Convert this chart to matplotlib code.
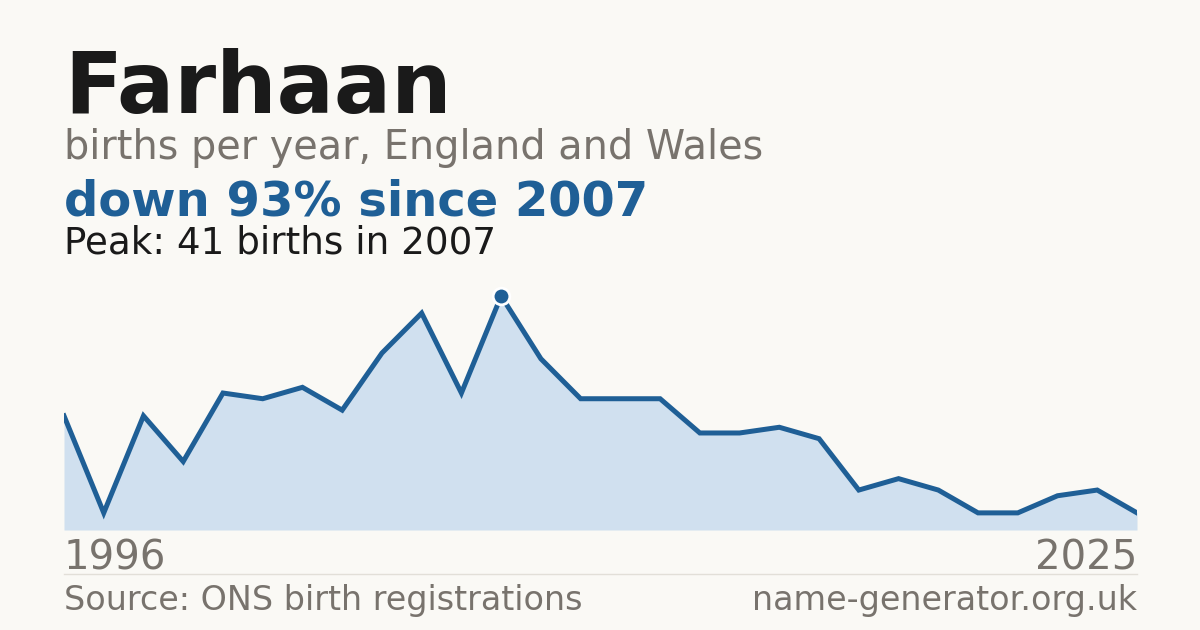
import matplotlib.pyplot as plt

plt.rcParams["font.family"] = ["DejaVu Sans"]

# births per year for Farhaan
years = list(range(1996, 2024))
births = [20, 3, 20, 12, 24, 23, 25, 21, 31, 38, 24, 41, 30, 23,
          23, 23, 17, 17, 18, 16, 7, 9, 7, 3, 3, 6, 7, 3]
axis_labels = ["1996", "2025"]
peak_year = 2007

BG = "#faf9f5"
BLUE = "#1f5f96"
FILL = "#d0e0ef"
GREY = "#78736d"
DARK = "#1a1a1a"

fig = plt.figure(figsize=(12, 6.3), dpi=100, facecolor=BG)

ax = fig.add_axes([64 / 1200, 100 / 630, 1073 / 1200, 250 / 630])
ax.set_facecolor(BG)
ax.fill_between(years, births, 0, color=FILL, lw=0)
ax.plot(years, births, color=BLUE, lw=3.6, solid_joinstyle="miter")
pk = births[years.index(peak_year)]
ax.plot([peak_year], [pk], "o", color=BLUE, ms=12, mec="white", mew=2, zorder=5)
ax.set_xlim(years[0], years[-1])
ax.set_ylim(0, 41 * 250 / 234)
ax.axis("off")

# header text
fig.text(64 / 1200, 1 - 113 / 630, "Farhaan", fontsize=61.2, fontweight="bold", color=DARK)
fig.text(64 / 1200, 1 - 159.5 / 630, "births per year, England and Wales", fontsize=28.6, color=GREY)
fig.text(64 / 1200, 1 - 215 / 630, "down 93% since 2007", fontsize=34.6, fontweight="bold", color=BLUE)
fig.text(64 / 1200, 1 - 253 / 630, "Peak: 41 births in 2007", fontsize=26.8, color=DARK)

# axis end labels
fig.text(64 / 1200, 1 - 570 / 630, axis_labels[0], fontsize=29, color=GREY)
fig.text(1137 / 1200, 1 - 570 / 630, axis_labels[1], fontsize=29, color=GREY, ha="right")

# separator and footer
fig.add_artist(plt.Line2D([64 / 1200, 1137 / 1200], [1 - 574 / 630] * 2, color="#e2dfd8", lw=1))
fig.text(64 / 1200, 1 - 610 / 630, "Source: ONS birth registrations", fontsize=24, color=GREY)
fig.text(1137 / 1200, 1 - 610 / 630, "name-generator.org.uk", fontsize=24, color=GREY, ha="right")

fig.savefig("out.png", dpi=100, facecolor=BG)
